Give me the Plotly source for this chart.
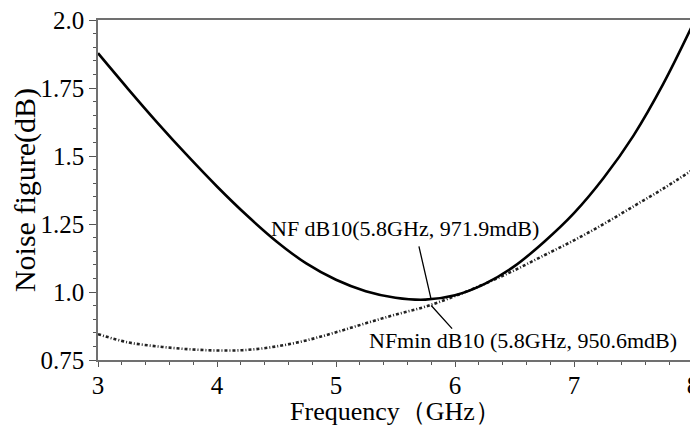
import plotly.graph_objects as go

freq = [3.0, 3.25, 3.5, 3.75, 4.0, 4.25, 4.5, 4.75, 5.0, 5.25, 5.5, 5.75,
        6.0, 6.25, 6.5, 6.75, 7.0, 7.25, 7.5, 7.75, 8.0]
nf = [1.878, 1.748, 1.622, 1.502, 1.388, 1.282, 1.186, 1.105, 1.045, 1.003, 0.979, 0.972,
      0.988, 1.030, 1.095, 1.185, 1.290, 1.420, 1.575, 1.765, 1.985]
nfmin = [0.845, 0.815, 0.80, 0.79, 0.785, 0.787, 0.80, 0.822, 0.852, 0.885, 0.917, 0.946,
         0.985, 1.03, 1.08, 1.135, 1.19, 1.25, 1.315, 1.38, 1.45]

y_ticks = [0.75, 1.0, 1.25, 1.5, 1.75, 2.0]
y_ticktext = ["0.75", "1.0", "1.25", "1.5", "1.75", "2.0"]
x_ticks = [3, 4, 5, 6, 7, 8]

marker_f = 5.8
nf_marker = 0.9719
nfmin_marker = 0.9506
nf_label = "NF dB10(5.8GHz, 971.9mdB)"
nfmin_label = "NFmin dB10 (5.8GHz, 950.6mdB)"

font = "Liberation Serif"

fig = go.Figure()
fig.add_trace(go.Scatter(x=freq, y=nfmin, mode="lines", line_shape="spline",
                         line=dict(color="#222", width=2.6, dash="3px,2px,1px,2px"),
                         showlegend=False))
fig.add_trace(go.Scatter(x=freq, y=nf, mode="lines", line_shape="spline",
                         line=dict(color="black", width=2.6), showlegend=False))

# marker leader lines
fig.add_annotation(x=marker_f, y=nf_marker, ax=5.694, ay=1.173, axref="x", ayref="y",
                   text="", showarrow=True, arrowhead=0, arrowwidth=1.3, arrowcolor="black")
fig.add_annotation(x=marker_f, y=nfmin_marker, ax=5.987, ay=0.86, axref="x", ayref="y",
                   text="", showarrow=True, arrowhead=0, arrowwidth=1.3, arrowcolor="black")
fig.add_annotation(x=5.58, y=1.235, text=nf_label, showarrow=False,
                   font=dict(family=font, size=22, color="black"), xanchor="center", yanchor="middle")
fig.add_annotation(x=6.57, y=0.82, text=nfmin_label, showarrow=False,
                   font=dict(family=font, size=22, color="black"), xanchor="center", yanchor="middle")

axis_common = dict(showline=True, linecolor="#707070", linewidth=1.5, mirror=True,
                   showgrid=False, zeroline=False, ticks="outside", tickcolor="#555",
                   automargin=False, ticklabeloverflow="allow",
                   tickfont=dict(family=font, size=25, color="black"))

fig.update_xaxes(range=[3, 8], tickvals=x_ticks, ticklen=5, tickwidth=1.2, ticklabelstandoff=-3,
                 minor=dict(dtick=0.2, ticks="outside", ticklen=3, tickcolor="#555"),
                 title=dict(text="Frequency（GHz）", font=dict(family=font, size=26, color="black"),
                            standoff=2),
                 **axis_common)
fig.update_yaxes(range=[0.75, 2.0], tickvals=y_ticks, ticktext=y_ticktext, ticklen=7, tickwidth=1.2,
                 minor=dict(dtick=0.05, ticks="outside", ticklen=3, tickcolor="#555"),
                 title=dict(text="Noise figure(dB)", font=dict(family=font, size=30, color="black"),
                            standoff=4),
                 **axis_common)

# page body has an 8px margin, so the figure is shrunk and shifted to fit the window
fig.update_layout(width=690, height=418, margin=dict(l=90, r=5, t=12, b=66, autoexpand=False),
                  plot_bgcolor="white", paper_bgcolor="white", font=dict(family=font))

fig.write_html("out.html")
